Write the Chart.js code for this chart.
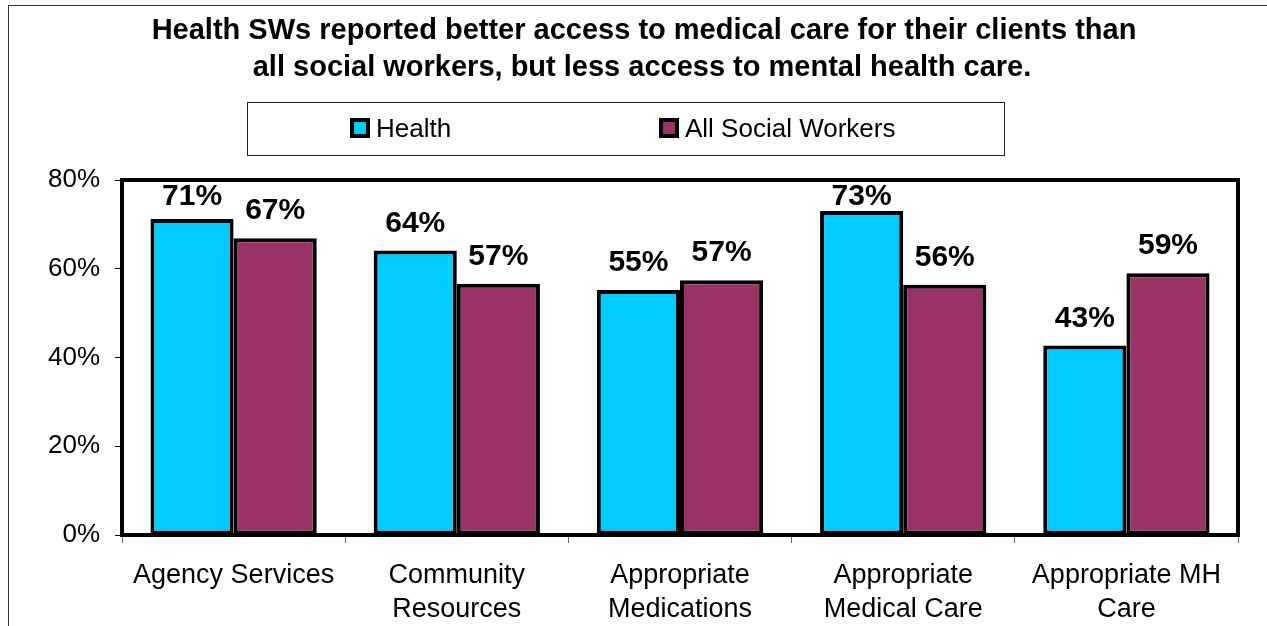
<!DOCTYPE html>
<html>
<head>
<meta charset="utf-8">
<script src="https://cdn.jsdelivr.net/npm/chart.js@4.4.1/dist/chart.umd.min.js"></script>
<style>
  html, body { margin: 0; padding: 0; background: #fff; }
  #wrap { position: relative; width: 1267px; height: 626px; overflow: hidden; }
  #frame { position: absolute; left: 8px; top: 5px; width: 1300px; height: 700px; border: 1px solid #333; box-sizing: border-box; }
  canvas { position: absolute; left: 0; top: 0; }
</style>
</head>
<body>
<div id="wrap">
  <div id="frame"></div>
  <canvas id="c" width="1267" height="626"></canvas>
</div>
<script>
const titleLines = [
  "Health SWs reported better access to medical care for their clients than",
  "all social workers, but less access to mental health care."
];
const categories = [
  ["Agency Services"],
  ["Community", "Resources"],
  ["Appropriate", "Medications"],
  ["Appropriate", "Medical Care"],
  ["Appropriate MH", "Care"]
];
const seriesNames = ["Health", "All Social Workers"];
const healthValues = [71.2, 64.1, 55.2, 73.0, 42.7];
const allSWValues = [66.9, 56.6, 57.4, 56.4, 59.0];
const seriesColors = ["#00CCFF", "#993366"];
const yTicks = [0, 20, 40, 60, 80];

const FONT = "'Liberation Sans', Arial, Helvetica, sans-serif";

const decorPlugin = {
  id: 'decor',
  beforeDraw(chart) {
    const ctx = chart.ctx;
    ctx.save();
    // title
    ctx.fillStyle = '#000';
    ctx.font = 'bold 29px ' + FONT;
    ctx.textAlign = 'center';
    ctx.textBaseline = 'alphabetic';
    ctx.fillText(titleLines[0], 644, 39);
    ctx.fillText(titleLines[1], 642, 76);
    // legend box
    ctx.strokeStyle = '#222';
    ctx.lineWidth = 1;
    ctx.strokeRect(247.5, 102.5, 757, 53);
    const items = [
      { x: 350, label: chart.data.datasets[0].label, color: chart.data.datasets[0].backgroundColor },
      { x: 659, label: chart.data.datasets[1].label, color: chart.data.datasets[1].backgroundColor }
    ];
    ctx.textAlign = 'left';
    ctx.font = '26px ' + FONT;
    items.forEach(it => {
      ctx.fillStyle = '#000';
      ctx.fillRect(it.x, 118, 20, 20);
      ctx.fillStyle = it.color;
      ctx.fillRect(it.x + 4, 122, 12, 12);
      ctx.fillStyle = '#000';
      ctx.fillText(it.label, it.x + 26, 137);
    });
    ctx.restore();
  },
  afterDatasetsDraw(chart) {
    const ctx = chart.ctx;
    const a = chart.chartArea;
    ctx.save();
    // plot frame
    ctx.strokeStyle = '#000';
    ctx.lineWidth = 4;
    ctx.strokeRect(a.left, a.top, a.right - a.left, a.bottom - a.top);
    // data labels
    ctx.fillStyle = '#000';
    ctx.font = 'bold 30px ' + FONT;
    ctx.textAlign = 'center';
    ctx.textBaseline = 'alphabetic';
    chart.data.datasets.forEach((ds, di) => {
      const meta = chart.getDatasetMeta(di);
      meta.data.forEach((bar, i) => {
        let base = bar.y - 19;
        if (base < a.top + 25) base = a.top + 25;
        ctx.fillText(Math.round(ds.data[i]) + '%', bar.x, base);
      });
    });
    ctx.restore();
  }
};

new Chart(document.getElementById('c'), {
  type: 'bar',
  data: {
    labels: categories,
    datasets: [
      { label: seriesNames[0], data: healthValues, backgroundColor: seriesColors[0], borderColor: '#000', borderWidth: 4, borderSkipped: false },
      { label: seriesNames[1], data: allSWValues, backgroundColor: seriesColors[1], borderColor: '#000', borderWidth: 4, borderSkipped: false }
    ]
  },
  options: {
    responsive: false,
    animation: false,
    events: [],
    layout: { padding: { top: 180, right: 29, left: 0, bottom: 0 } },
    plugins: { legend: { display: false }, title: { display: false }, tooltip: { enabled: false } },
    datasets: { bar: { categoryPercentage: 0.745, barPercentage: 1.0 } },
    scales: {
      x: {
        grid: { display: true, drawOnChartArea: false, drawTicks: true, tickLength: 8, color: '#666', lineWidth: 1, offset: true },
        border: { display: false },
        ticks: { color: '#000', font: { family: FONT, size: 27, lineHeight: 1.27 }, padding: 15, maxRotation: 0, autoSkip: false },
        afterFit(scale) { scale.height = 91; }
      },
      y: {
        min: 0, max: 80,
        afterBuildTicks(scale) { scale.ticks = yTicks.map(v => ({ value: v })); },
        grid: { display: true, drawOnChartArea: false, drawTicks: true, tickLength: 7, color: '#000', lineWidth: 1 },
        border: { display: false },
        ticks: { color: '#000', font: { family: FONT, size: 26 }, padding: 15, callback: v => v + '%' },
        afterFit(scale) { scale.width = 122; }
      }
    }
  },
  plugins: [decorPlugin]
});
</script>
</body>
</html>
